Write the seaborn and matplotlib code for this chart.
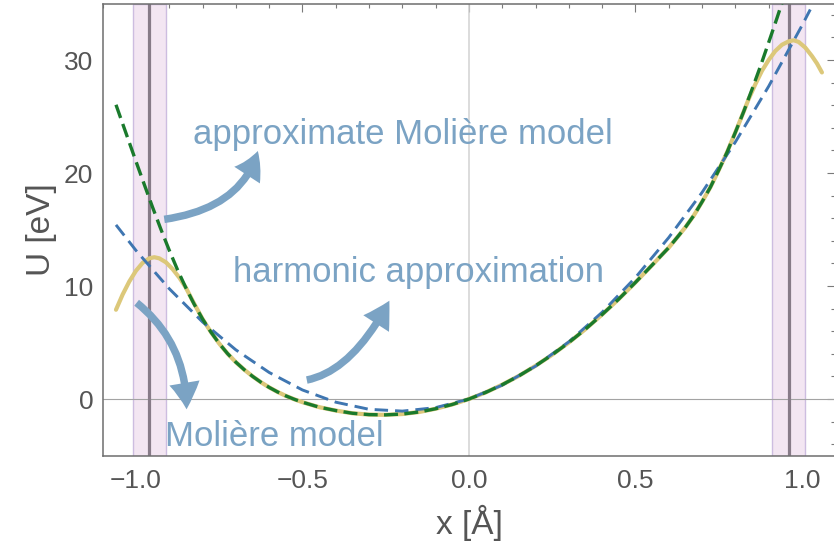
import matplotlib
matplotlib.use("Agg")
import matplotlib.pyplot as plt
import seaborn as sns
from matplotlib.patches import FancyArrowPatch
from matplotlib.path import Path
from matplotlib.ticker import MultipleLocator

# Molière model (thermally averaged planar potential), eV vs Å
x_moliere = [-1.06, -1.04, -1.02, -1.00, -0.98, -0.96, -0.945, -0.93, -0.91, -0.89,
             -0.87, -0.85, -0.83, -0.80, -0.775, -0.75, -0.725, -0.70, -0.675, -0.65,
             -0.625, -0.60, -0.575, -0.55, -0.525, -0.50, -0.45, -0.40, -0.35, -0.30,
             -0.25, -0.20, -0.15, -0.10, -0.05, 0.00, 0.05, 0.10, 0.15, 0.20,
             0.25, 0.30, 0.35, 0.40, 0.45, 0.50, 0.55, 0.60, 0.625, 0.65,
             0.675, 0.70, 0.725, 0.75, 0.775, 0.80, 0.825, 0.84, 0.86, 0.88,
             0.90, 0.92, 0.94, 0.96, 0.975, 0.99, 1.01, 1.03, 1.045, 1.06]
u_moliere = [7.9, 9.25, 10.4, 11.35, 12.05, 12.45, 12.55, 12.45, 12.1, 11.5,
             10.75, 9.85, 8.7, 7.08, 5.93, 4.91, 4.02, 3.26, 2.60, 2.01,
             1.49, 1.03, 0.63, 0.28, -0.02, -0.28, -0.72, -1.02, -1.26, -1.38,
             -1.40, -1.33, -1.15, -0.86, -0.48, 0.0, 0.58, 1.27, 2.05, 2.94,
             3.92, 5.00, 6.19, 7.48, 8.85, 10.32, 11.85, 13.4, 14.29, 15.2,
             16.23, 17.45, 18.74, 20.25, 21.83, 23.6, 25.43, 26.55, 27.85, 29.05,
             30.0, 30.8, 31.35, 31.65, 31.75, 31.6, 31.1, 30.35, 29.7, 28.9]

# approximate Molière model
x_approx = [-1.06, -1.03, -1.00, -0.975, -0.95, -0.925, -0.90, -0.875, -0.85, -0.825,
            -0.80, -0.775, -0.75, -0.725, -0.70, -0.675, -0.65, -0.625, -0.60, -0.575,
            -0.55, -0.525, -0.50, -0.45, -0.40, -0.35, -0.30, -0.25, -0.20, -0.15,
            -0.10, -0.05, 0.00, 0.05, 0.10, 0.15, 0.20, 0.25, 0.30, 0.35,
            0.40, 0.45, 0.50, 0.55, 0.60, 0.625, 0.65, 0.675, 0.70, 0.725,
            0.75, 0.775, 0.80, 0.825, 0.85, 0.875, 0.90, 0.925, 0.95]
u_approx = [26.04, 23.53, 21.03, 18.98, 16.96, 15.01, 13.16, 11.42, 9.83, 8.38,
            7.08, 5.93, 4.91, 4.02, 3.26, 2.60, 2.01, 1.49, 1.03, 0.63,
            0.28, -0.02, -0.28, -0.72, -1.02, -1.26, -1.38, -1.40, -1.33, -1.15,
            -0.86, -0.48, 0.0, 0.58, 1.27, 2.05, 2.94, 3.92, 5.00, 6.19,
            7.48, 8.85, 10.32, 11.85, 13.4, 14.29, 15.2, 16.23, 17.45, 18.74,
            20.25, 21.83, 23.6, 25.43, 27.4, 29.42, 31.55, 33.71, 35.95]

# harmonic approximation
x_harm = [-1.06, -1.00, -0.90, -0.80, -0.70, -0.60, -0.50, -0.40, -0.30, -0.20,
          -0.10, 0.00, 0.10, 0.20, 0.30, 0.40, 0.50, 0.60, 0.70, 0.80,
          0.90, 1.00, 1.025]
u_harm = [15.41, 13.15, 9.76, 6.82, 4.35, 2.35, 0.80, -0.28, -0.91, -1.07,
          -0.76, 0.0, 1.23, 2.91, 5.06, 7.68, 10.75, 14.29, 18.28, 22.74,
          27.67, 33.05, 34.47]

# atomic planes and their thermal-vibration widths
plane_x = [-0.96, 0.96]
plane_halfwidth = 0.05

x_ticks = [-1.0, -0.5, 0.0, 0.5, 1.0]
x_tick_labels = ["\u22121.0", "\u22120.5", "0.0", "0.5", "1.0"]
y_ticks = [0, 10, 20, 30]
y_tick_labels = ["0", "10", "20", "30"]

sns.set_theme(style="white")
plt.rcParams["font.family"] = ["Liberation Sans", "DejaVu Sans"]

fig = plt.figure(figsize=(8.34, 5.41), dpi=100)
ax = fig.add_axes([0.1231, 0.158, 0.8784, 0.8355])
ax.set_xlim(-1.1, 1.1)
ax.set_ylim(-5, 35)

for xc in plane_x:
    ax.axvspan(xc - plane_halfwidth, xc + plane_halfwidth, facecolor="#f3e6f2",
               edgecolor="#cdbde0", lw=1.0, zorder=1)
    ax.axvline(xc, color="#877b88", lw=2.3, zorder=2)
ax.axvline(0, color="#d2d2d2", lw=1.1, zorder=1.5)
ax.axhline(0, color="#a3a3a3", lw=0.8, zorder=1.5)

sns.lineplot(x=x_moliere, y=u_moliere, ax=ax, color="#dcc87a", lw=3.0,
             sort=False, estimator=None, zorder=3)
sns.lineplot(x=x_harm, y=u_harm, ax=ax, color="#3f76b1", lw=2.1,
             linestyle=(0, (4.6, 2.4)), sort=False, estimator=None, zorder=4)
sns.lineplot(x=x_approx, y=u_approx, ax=ax, color="#1a7a2c", lw=2.4,
             linestyle=(0, (4.2, 1.9)), sort=False, estimator=None, zorder=5)

# annotations
note_color = "#7ba3c4"
note_kw = dict(fontsize=25, color=note_color, ha="left", va="baseline", zorder=6)
ax.text(-0.829, 22.57, "approximate Molière model", **note_kw)
ax.text(-0.709, 10.35, "harmonic approximation", **note_kw)
ax.text(-0.913, -4.16, "Molière model", **note_kw)

arrow_paths = [
    [(-0.915, 15.90), (-0.682, 16.89), (-0.634, 21.95)],
    [(-0.487, 1.68), (-0.349, 2.50), (-0.239, 8.70)],
    [(-0.998, 8.52), (-0.848, 4.98), (-0.848, -0.91)],
]
for pts in arrow_paths:
    path = Path(pts, [Path.MOVETO, Path.CURVE3, Path.CURVE3])
    arr = FancyArrowPatch(path=path,
                          arrowstyle="simple,head_length=19,head_width=22,tail_width=5.4",
                          mutation_scale=1, color=note_color, lw=0, zorder=6)
    ax.add_patch(arr)

# frame and ticks
ax.set_xticks(x_ticks)
ax.set_xticklabels(x_tick_labels)
ax.set_yticks(y_ticks)
ax.set_yticklabels(y_tick_labels)
ax.xaxis.set_minor_locator(MultipleLocator(0.1))
ax.yaxis.set_minor_locator(MultipleLocator(2))
ax.tick_params(which="both", direction="in", top=True, right=True,
               color="#7a7a7a", width=0.8)
ax.tick_params(which="major", length=5.5, labelsize=19, labelcolor="#555555")
ax.tick_params(which="minor", length=3)
ax.tick_params(axis="y", which="major", pad=6.8)
ax.tick_params(axis="x", which="major", pad=10)
for sp in ax.spines.values():
    sp.set_color("#6e6e6e")
    sp.set_linewidth(1.1)

ax.set_xlabel("x [Å]", fontsize=24, color="#555555")
ax.set_ylabel("U [eV]", fontsize=24, color="#555555")
ax.xaxis.set_label_coords(0.5, -0.108)
ax.yaxis.set_label_coords(-0.0617, 0.5)

fig.savefig("out.png", dpi=100)
